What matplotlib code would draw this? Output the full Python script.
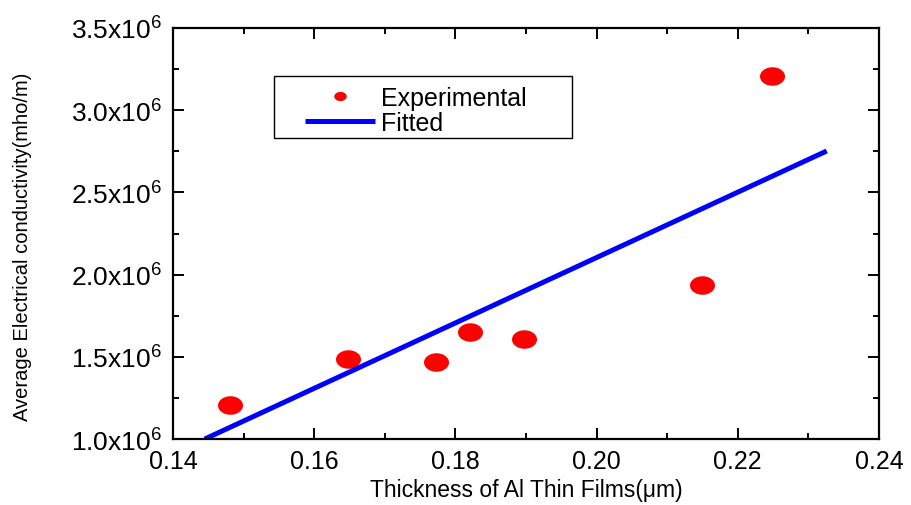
import numpy as np
import matplotlib
matplotlib.use("Agg")
import matplotlib.pyplot as plt
from matplotlib.path import Path
from matplotlib.patches import Rectangle
from matplotlib.ticker import MultipleLocator, FixedLocator

# data
thickness = [0.1481, 0.1648, 0.1773, 0.1821, 0.1897, 0.2149, 0.2248]
conductivity = [1.207e6, 1.487e6, 1.468e6, 1.651e6, 1.608e6, 1.937e6, 3.208e6]

fit_x = [0.1445, 0.2326]
fit_y = [1.0e6, 2.752e6]

x_ticks = [0.14, 0.16, 0.18, 0.20, 0.22, 0.24]
y_ticks = [1.0e6, 1.5e6, 2.0e6, 2.5e6, 3.0e6, 3.5e6]
y_labels = ["1.0x10$^{6}$", "1.5x10$^{6}$", "2.0x10$^{6}$",
            "2.5x10$^{6}$", "3.0x10$^{6}$", "3.5x10$^{6}$"]

plt.rcParams['font.family'] = ['Liberation Sans', 'DejaVu Sans']
plt.rcParams['mathtext.fontset'] = 'custom'
plt.rcParams['mathtext.rm'] = 'Liberation Sans'
plt.rcParams['mathtext.default'] = 'regular'

# slightly wide ellipse marker (the original picture is stretched)
t = np.linspace(0, 2 * np.pi, 60)
ellipse = Path(np.column_stack([np.cos(t), 0.74 * np.sin(t)]), closed=True)

fig = plt.figure(figsize=(9.12, 5.06), dpi=100)
ax = fig.add_axes([0.1897, 0.1304, 0.7741, 0.8123])

ax.plot(thickness, conductivity, linestyle='none', marker=ellipse,
        markersize=18, color='#ff0000', markeredgewidth=0, label='Experimental')
ax.plot(fit_x, fit_y, color='#0000ff', linewidth=3.6, solid_capstyle='butt',
        label='Fitted')

ax.set_xlim(0.14, 0.24)
ax.set_ylim(1.0e6, 3.5e6)
ax.xaxis.set_major_locator(FixedLocator(x_ticks))
ax.xaxis.set_minor_locator(MultipleLocator(0.01))
ax.yaxis.set_major_locator(FixedLocator(y_ticks))
ax.yaxis.set_minor_locator(MultipleLocator(0.25e6))
ax.set_xticklabels(["%.2f" % v for v in x_ticks])
ax.set_yticklabels(y_labels)

ax.tick_params(which='both', direction='in', top=True, right=True,
               width=1.4, colors='black')
ax.tick_params(which='major', length=8)
ax.tick_params(which='minor', length=4.5)
ax.tick_params(axis='x', which='major', labelsize=18, pad=7.5)
ax.tick_params(axis='y', which='major', labelsize=19, pad=8)
for s in ax.spines.values():
    s.set_linewidth(1.6)

ax.set_xlabel("Thickness of Al Thin Films(\u03bcm)", fontsize=16.5, labelpad=3)
ax.set_ylabel("Average Electrical conductivity(mho/m)", fontsize=14.5)
ax.yaxis.set_label_coords(-0.2, 0.47)

leg = ax.legend(loc='center left', bbox_to_anchor=(0.187, 0.7993), fontsize=18,
                frameon=False, handlelength=2.8, borderpad=0,
                labelspacing=0.02, handletextpad=0.25, borderaxespad=0)
leg.legend_handles[0].set_markersize(9)
ax.add_patch(Rectangle((0.143, 0.7324), 0.422, 0.1509, transform=ax.transAxes,
                       fill=False, edgecolor='black', linewidth=1.0, zorder=4))

fig.savefig("out.png", dpi=100)
